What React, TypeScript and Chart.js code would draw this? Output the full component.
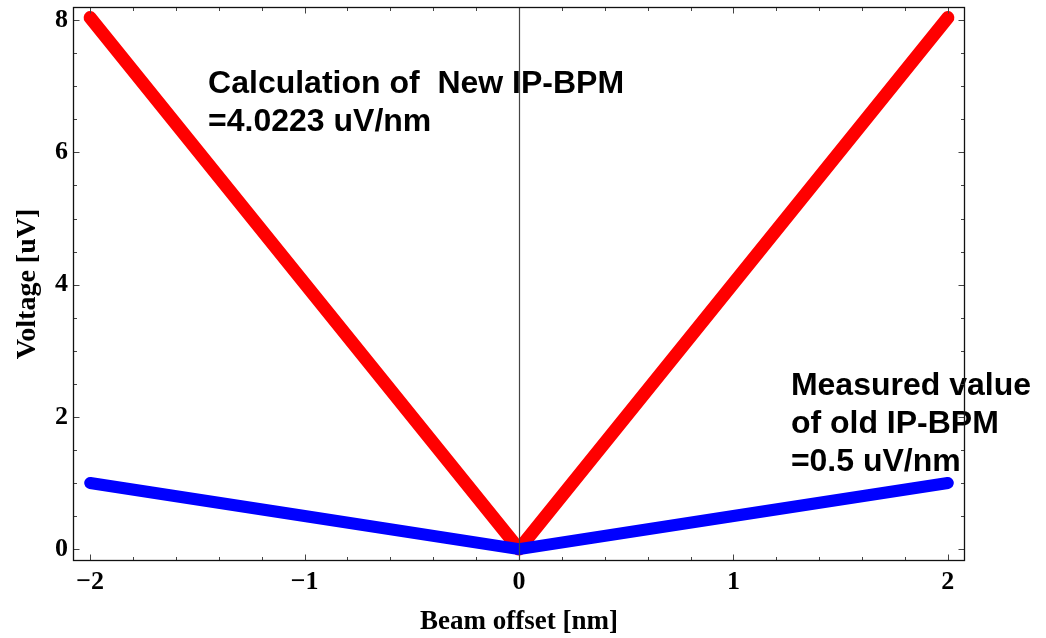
import React, { useEffect, useRef } from "react";
import { Chart, registerables } from "chart.js";

Chart.register(...registerables);

// ---- data ----
const offsets = [-2, -1, 0, 1, 2];
const newBpmVoltage = [8.04, 4.02, 0, 4.02, 8.04];
const oldBpmVoltage = [1.0, 0.5, 0, 0.5, 1.0];

const xMajorTicks = [-2, -1, 0, 1, 2];
const yMajorTicks = [0, 2, 4, 6, 8];

const newLabelLines = ["Calculation of  New IP-BPM", "=4.0223 uV/nm"];
const oldLabelLines = ["Measured value", "of old IP-BPM", "=0.5 uV/nm"];

// anchors in data coordinates
const newLabelAt = { x: -1.45, y: 6.9 };
const oldLabelAt = { x: 1.268, y: 2.33 };

const X_MIN = -2.08, X_MAX = 2.08, Y_MIN = -0.18, Y_MAX = 8.2;
const X_MINOR = 0.2, Y_MINOR = 0.5;

const SERIF = '"Liberation Serif", "Times New Roman", serif';
const SANS = '"Liberation Sans", Arial, sans-serif';

const fmt = (v: number) => (v < 0 ? "\u2212" + Math.abs(v) : String(v));

const overlay = {
  id: "overlay",
  afterDatasetsDraw(chart: any) {
    const { ctx, chartArea: a, scales } = chart;
    const x = scales.x, y = scales.y;
    ctx.save();
    // annotations
    ctx.font = `bold 32px ${SANS}`;
    ctx.fillStyle = "#000";
    ctx.textAlign = "left";
    ctx.textBaseline = "alphabetic";
    const drawLines = (lines: string[], at: { x: number; y: number }) => {
      const px = x.getPixelForValue(at.x);
      const py = y.getPixelForValue(at.y);
      lines.forEach((t, i) => ctx.fillText(t, px, py + i * 38));
    };
    drawLines(newLabelLines, newLabelAt);
    drawLines(oldLabelLines, oldLabelAt);

    // vertical axis at x = 0
    const x0 = Math.round(x.getPixelForValue(0)) + 0.5;
    ctx.strokeStyle = "#444";
    ctx.lineWidth = 1.2;
    ctx.beginPath();
    ctx.moveTo(x0, a.top);
    ctx.lineTo(x0, a.bottom);
    ctx.stroke();

    // ticks
    ctx.strokeStyle = "#444";
    ctx.lineWidth = 1;
    const L = Math.round(a.left) + 0.5, R = Math.round(a.right) - 0.5;
    const T = Math.round(a.top) + 0.5, B = Math.round(a.bottom) - 0.5;
    ctx.beginPath();
    for (let i = Math.ceil(X_MIN / X_MINOR); i * X_MINOR <= X_MAX + 1e-9; i++) {
      const v = i * X_MINOR;
      const major = xMajorTicks.some((m) => Math.abs(m - v) < 1e-6);
      const len = major ? 6 : 3.5;
      const px = Math.round(x.getPixelForValue(v)) + 0.5;
      ctx.moveTo(px, B);
      ctx.lineTo(px, B - len);
      ctx.moveTo(px, T);
      ctx.lineTo(px, T + len);
    }
    for (let i = Math.ceil(Y_MIN / Y_MINOR); i * Y_MINOR <= Y_MAX + 1e-9; i++) {
      const v = i * Y_MINOR;
      const major = yMajorTicks.some((m) => Math.abs(m - v) < 1e-6);
      const len = major ? 6 : 3.5;
      const py = Math.round(y.getPixelForValue(v)) + 0.5;
      ctx.moveTo(L, py);
      ctx.lineTo(L + len, py);
      ctx.moveTo(R, py);
      ctx.lineTo(R - len, py);
    }
    ctx.stroke();

    // frame
    ctx.strokeStyle = "#111";
    ctx.lineWidth = 1.3;
    ctx.strokeRect(L, T, R - L, B - T);
    ctx.restore();
  },
};

export default function App() {
  const ref = useRef<HTMLCanvasElement | null>(null);
  useEffect(() => {
    if (!ref.current) return;
    const chart = new Chart(ref.current, {
      type: "scatter",
      data: {
        datasets: [
          {
            label: "old IP-BPM",
            data: offsets.map((o, i) => ({ x: o, y: oldBpmVoltage[i] })),
            showLine: true,
            borderColor: "#0000ff",
            backgroundColor: "#0000ff",
            borderWidth: 12,
            borderCapStyle: "round",
            borderJoinStyle: "round",
            pointRadius: 0,
            tension: 0,
          },
          {
            label: "New IP-BPM",
            data: offsets.map((o, i) => ({ x: o, y: newBpmVoltage[i] })),
            showLine: true,
            borderColor: "#ff0000",
            backgroundColor: "#ff0000",
            borderWidth: 13,
            borderCapStyle: "round",
            borderJoinStyle: "round",
            pointRadius: 0,
            tension: 0,
          },
        ],
      },
      options: {
        responsive: false,
        animation: false,
        devicePixelRatio: 1,
        layout: { padding: { left: 0, top: 7, right: 81, bottom: 0 } },
        plugins: {
          legend: { display: false },
          tooltip: { enabled: false },
        },
        scales: {
          x: {
            type: "linear",
            min: X_MIN,
            max: X_MAX,
            afterBuildTicks: (s: any) => {
              s.ticks = xMajorTicks.map((v) => ({ value: v }));
            },
            afterFit: (s: any) => {
              s.height = 77;
              s.paddingLeft = 0;
              s.paddingRight = 0;
            },
            grid: { display: false, drawTicks: false },
            border: { display: false },
            ticks: {
              autoSkip: false,
              maxRotation: 0,
              padding: 6,
              color: "#000",
              font: { family: SERIF, size: 26, weight: "bold" },
              callback: (v: any) => fmt(Number(v)),
            },
            title: {
              display: true,
              text: "Beam offset [nm]",
              color: "#000",
              font: { family: SERIF, size: 27, weight: "bold" },
              padding: { top: 0, bottom: 0 },
            },
          },
          y: {
            type: "linear",
            min: Y_MIN,
            max: Y_MAX,
            afterBuildTicks: (s: any) => {
              s.ticks = yMajorTicks.map((v) => ({ value: v }));
            },
            afterFit: (s: any) => {
              s.width = 73;
              s.paddingTop = 0;
              s.paddingBottom = 0;
            },
            grid: { display: false, drawTicks: false },
            border: { display: false },
            ticks: {
              autoSkip: false,
              padding: 5,
              color: "#000",
              font: { family: SERIF, size: 26, weight: "bold" },
              callback: (v: any) => fmt(Number(v)),
            },
            title: {
              display: true,
              text: "Voltage [uV]",
              color: "#000",
              font: { family: SERIF, size: 28, weight: "bold" },
              padding: { top: 11, bottom: 0 },
            },
          },
        },
      },
      plugins: [overlay],
    } as any);
    return () => chart.destroy();
  }, []);
  return (
    <div style={{ position: "absolute", left: 0, top: 0, width: 1046, height: 638, background: "#fff" }}>
      <canvas ref={ref} width={1046} height={638} />
    </div>
  );
}
